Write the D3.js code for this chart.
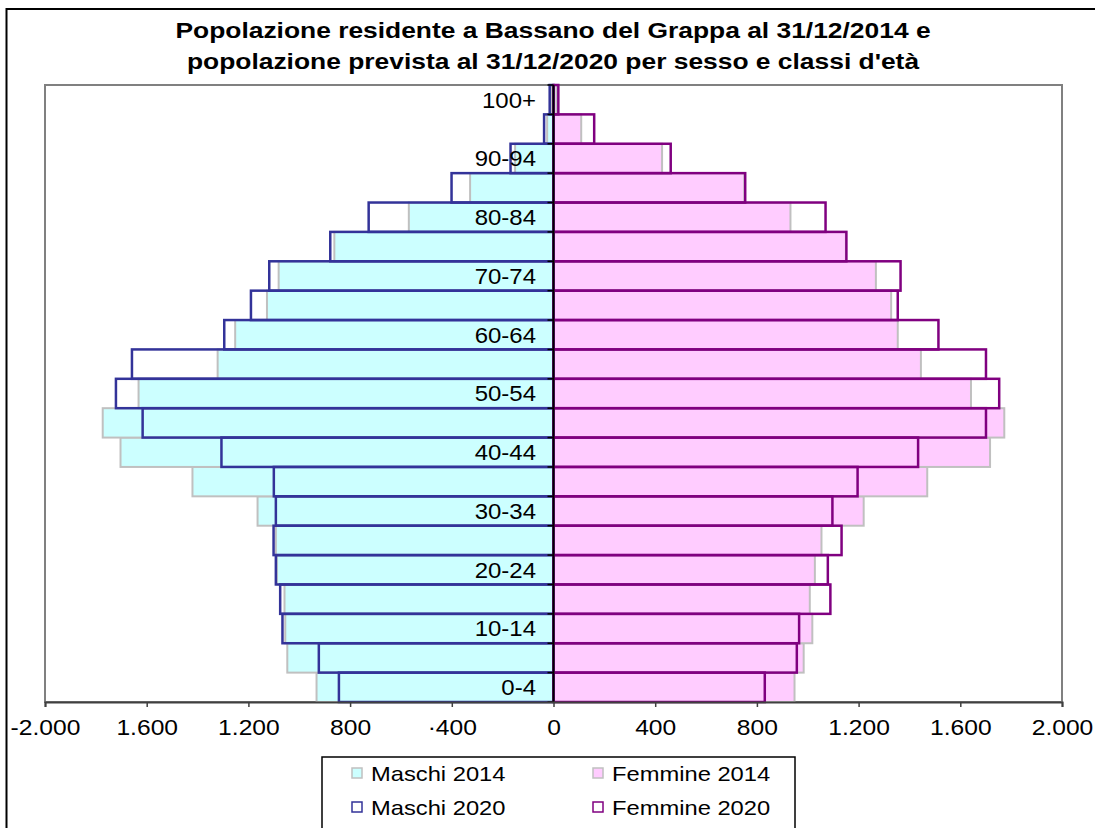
<!DOCTYPE html>
<html lang="it">
<head>
<meta charset="UTF-8">
<title>Popolazione Bassano del Grappa</title>
<script src="https://cdn.jsdelivr.net/npm/d3@7"></script>
<style>
  body { margin: 0; background: #fff; }
  text { font-family: "Liberation Sans", Arial, sans-serif; fill: #000; }
</style>
</head>
<body>
<script>
// age classes, bottom to top
const ages = ['0-4', '5-9', '10-14', '15-19', '20-24', '25-29', '30-34', '35-39', '40-44', '45-49',
  '50-54', '55-59', '60-64', '65-69', '70-74', '75-79', '80-84', '85-89', '90-94', '95-99', '100+'];

const maschi2014 = [932, 1047, 1055, 1058, 1088, 1092, 1164, 1420, 1703, 1773, 1632, 1321, 1252, 1127, 1081, 862, 569, 328, 151, 25, 8];
const maschi2020 = [844, 923, 1066, 1075, 1092, 1101, 1092, 1100, 1306, 1616, 1721, 1658, 1295, 1190, 1118, 878, 727, 401, 169, 37, 15];
const femmine2014 = [948, 984, 1018, 1008, 1028, 1054, 1220, 1470, 1717, 1773, 1642, 1445, 1354, 1328, 1268, 1150, 932, 750, 427, 109, 12];
const femmine2020 = [831, 957, 966, 1089, 1079, 1133, 1097, 1196, 1434, 1701, 1753, 1701, 1514, 1354, 1365, 1152, 1070, 754, 461, 160, 19];

const xTickValues = [-2000, -1600, -1200, -800, -400, 0, 400, 800, 1200, 1600, 2000];
const xTickLabels = ['-2.000', '1.600', '1.200', '800', '·400', '0', '400', '800', '1.200', '1.600', '2.000'];
const titleLines = ['Popolazione residente a Bassano del Grappa al 31/12/2014 e',
  "popolazione prevista al 31/12/2020 per sesso e classi d'età"];
const seriesNames = ['Maschi 2014', 'Femmine 2014', 'Maschi 2020', 'Femmine 2020'];

const W = 1095, H = 828;
const plot = { left: 45, right: 1062, top: 85, bottom: 702 };

const svg = d3.select('body').append('svg')
  .attr('width', W)
  .attr('height', H);

// outer chart border
svg.append('rect')
  .attr('x', 6.5).attr('y', 9)
  .attr('width', W + 20).attr('height', H + 20)
  .attr('fill', 'none').attr('stroke', '#000').attr('stroke-width', 2);

// title (the original text is drawn a little wide)
svg.append('g').selectAll('text')
  .data(titleLines)
  .enter().append('text')
  .attr('transform', (d, i) => `translate(553,${38 + i * 31}) scale(1.2,1)`)
  .attr('text-anchor', 'middle')
  .style('font-weight', 'bold')
  .style('font-size', '22px')
  .text(d => d);

const x = d3.scaleLinear()
  .domain([-2000, 2000])
  .range([plot.left, plot.right]);

const y = d3.scaleBand()
  .domain(ages.slice().reverse())
  .range([plot.top, plot.bottom])
  .padding(0);

// plot area border
svg.append('rect')
  .attr('x', plot.left).attr('y', plot.top)
  .attr('width', plot.right - plot.left).attr('height', plot.bottom - plot.top)
  .attr('fill', '#fff').attr('stroke', '#808080').attr('stroke-width', 2);

const rows = ages.map((a, i) => ({
  age: a, m14: maschi2014[i], m20: maschi2020[i], f14: femmine2014[i], f20: femmine2020[i]
}));

// 2014 filled bars
svg.append('g').selectAll('rect')
  .data(rows)
  .enter().append('rect')
  .attr('x', d => x(-d.m14))
  .attr('y', d => y(d.age))
  .attr('width', d => x(0) - x(-d.m14))
  .attr('height', y.bandwidth())
  .attr('fill', '#ccffff')
  .attr('stroke', '#c0c0c0')
  .attr('stroke-width', 2);

svg.append('g').selectAll('rect')
  .data(rows)
  .enter().append('rect')
  .attr('x', x(0))
  .attr('y', d => y(d.age))
  .attr('width', d => x(d.f14) - x(0))
  .attr('height', y.bandwidth())
  .attr('fill', '#ffccff')
  .attr('stroke', '#c0c0c0')
  .attr('stroke-width', 2);

// 2020 outline bars on top
svg.append('g').selectAll('rect')
  .data(rows)
  .enter().append('rect')
  .attr('x', d => x(-d.m20))
  .attr('y', d => y(d.age))
  .attr('width', d => x(0) - x(-d.m20))
  .attr('height', y.bandwidth())
  .attr('fill', 'none')
  .attr('stroke', '#333399')
  .attr('stroke-width', 2.5);

svg.append('g').selectAll('rect')
  .data(rows)
  .enter().append('rect')
  .attr('x', x(0))
  .attr('y', d => y(d.age))
  .attr('width', d => x(d.f20) - x(0))
  .attr('height', y.bandwidth())
  .attr('fill', 'none')
  .attr('stroke', '#800080')
  .attr('stroke-width', 2.5);

// category axis at zero
const catTicks = d3.range(ages.length + 1).map(i => plot.top + i * y.step());
svg.append('g').selectAll('line')
  .data(catTicks)
  .enter().append('line')
  .attr('x1', x(0) - 6).attr('x2', x(0))
  .attr('y1', d => d).attr('y2', d => d)
  .attr('stroke', '#000').attr('stroke-width', 1.5);

svg.append('line')
  .attr('x1', x(0)).attr('x2', x(0))
  .attr('y1', plot.top).attr('y2', plot.bottom)
  .attr('stroke', '#000').attr('stroke-width', 2);

// age labels, every other class
svg.append('g').selectAll('text')
  .data(ages.filter((a, i) => i % 2 === 0))
  .enter().append('text')
  .attr('transform', d => `translate(536,${y(d) + y.bandwidth() / 2}) scale(1.09,1)`)
  .attr('dy', '0.36em')
  .attr('text-anchor', 'end')
  .style('font-size', '22px')
  .text(d => d);

// value axis
const xAxis = d3.axisBottom(x)
  .tickValues(xTickValues)
  .tickSize(5)
  .tickPadding(12)
  .tickFormat((d, i) => xTickLabels[i]);

const gx = svg.append('g')
  .attr('transform', `translate(0,${plot.bottom})`)
  .call(xAxis);
gx.select('.domain').attr('stroke', '#404040').attr('stroke-width', 2);
gx.selectAll('.tick line').attr('stroke', '#404040').attr('stroke-width', 1.5);
gx.selectAll('.tick text')
  .style('font-family', '"Liberation Sans", Arial, sans-serif')
  .style('font-size', '22px')
  .attr('transform', 'scale(1.12,1)')
  .attr('fill', '#000');

// legend
const legend = svg.append('g');
legend.append('rect')
  .attr('x', 322).attr('y', 757)
  .attr('width', 473).attr('height', 120)
  .attr('fill', '#fff').attr('stroke', '#000').attr('stroke-width', 1.5);

const legendStyles = [
  { fill: '#ccffff', stroke: '#c0c0c0' },
  { fill: '#ffccff', stroke: '#c0c0c0' },
  { fill: '#fff', stroke: '#333399' },
  { fill: '#fff', stroke: '#800080' }
];

const item = legend.selectAll('.legend-item')
  .data(seriesNames)
  .enter().append('g')
  .attr('class', 'legend-item')
  .attr('transform', (d, i) => `translate(${i % 2 === 0 ? 352 : 593},${i < 2 ? 773 : 807})`);

item.append('rect')
  .attr('x', 0).attr('y', -5)
  .attr('width', 10).attr('height', 10)
  .attr('fill', (d, i) => legendStyles[i].fill)
  .attr('stroke', (d, i) => legendStyles[i].stroke)
  .attr('stroke-width', 1.5);

item.append('text')
  .attr('transform', 'translate(19,0) scale(1.13,1)')
  .attr('dy', '0.36em')
  .style('font-size', '21px')
  .text(d => d);
</script>
</body>
</html>
